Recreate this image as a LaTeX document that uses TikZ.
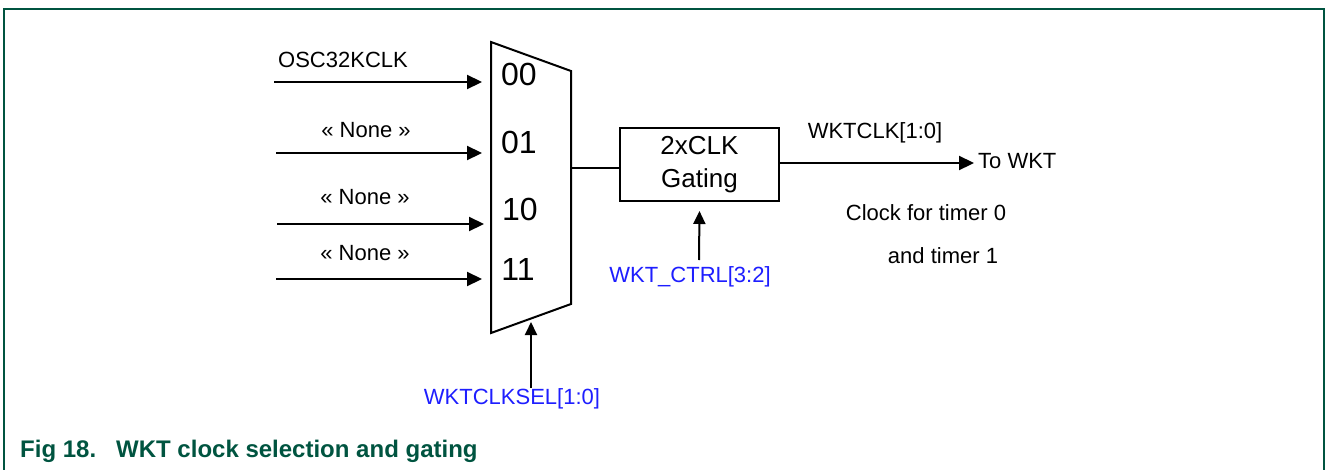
\documentclass[tikz,border=0pt]{standalone}
\usepackage{fontspec}
\setmainfont{Liberation Sans}
\usetikzlibrary{arrows.meta}
\definecolor{nxpgreen}{RGB}{0,84,64}
\definecolor{sigblue}{RGB}{30,30,255}
\begin{document}
\begin{tikzpicture}[x=1pt,y=-1pt,
  lbl/.style={anchor=base,inner sep=0pt,font=\fontsize{22}{26}\selectfont},
  sel/.style={lbl,text=sigblue},
  port/.style={anchor=base,inner sep=0pt,font=\fontsize{32}{36}\selectfont},
  wire/.style={line width=2pt},
  sig/.style={line width=2.2pt,-{Triangle[length=15pt,width=14pt]}},
  ctl/.style={line width=2pt,-{Triangle[length=13pt,width=12pt]}},
  gatebox/.style={draw,line width=2pt,minimum width=159pt,minimum height=73pt,inner sep=0pt,align=center,font=\fontsize{26}{33}\selectfont}]
\useasboundingbox (0,0) rectangle (1326,469);
% frame
\draw[nxpgreen,line width=1.5pt] (4,472) -- (4,9) -- (1324,9) -- (1324,472);
% multiplexer
\coordinate (mTL) at (491,42);
\coordinate (mTR) at (571,71);
\coordinate (mBR) at (571,304);
\coordinate (mBL) at (491,333);
\draw[wire,line join=miter] (mTL) -- (mTR) -- (mBR) -- (mBL) -- cycle;
\node[port] (p00) at (519,85) {00};
\node[port] (p01) at (519,153) {01};
\node[port] (p10) at (520,220) {10};
\node[port] (p11) at (518,280) {11};
% inputs
\coordinate (s0) at (274,82);  \coordinate (e0) at (482,82);
\coordinate (s1) at (276,153); \coordinate (e1) at (482,153);
\coordinate (s2) at (277,224); \coordinate (e2) at (484,224);
\coordinate (s3) at (276,279); \coordinate (e3) at (482,279);
\draw[sig] (s0) -- (e0);
\draw[sig] (s1) -- (e1);
\draw[sig] (s2) -- (e2);
\draw[sig] (s3) -- (e3);
\node[lbl] (lo) at (343,67) {OSC32KCLK};
\node[lbl] (ln1) at (366,137) {« None »};
\node[lbl] (ln2) at (365,204) {« None »};
\node[lbl] (ln3) at (365,260) {« None »};
% select
\node[sel] (wsel) at (512,404) {WKTCLKSEL[1:0]};
\coordinate (selS) at (531,388);
\coordinate (selE) at (531,322);
\draw[ctl] (selS) -- (selE);
% gating box
\node[gatebox] (gate) at (699.5,164.5) {2xCLK\\Gating};
\coordinate (mout) at (571,168);
\draw[wire] (mout) -- (mout -| gate.west);
% output
\coordinate (toE) at (974,163);
\draw[sig] (gate.east |- toE) -- (toE);
\node[lbl,anchor=base west] (towkt) at (978,168) {To WKT};
\node[lbl] (wclk) at (875,138) {WKTCLK[1:0]};
\node[lbl] (c0) at (926,220) {Clock for timer 0};
\node[lbl] (c1) at (943,263) {and timer 1};
% gating control
\node[sel] (wctrl) at (690,282) {WKT\_CTRL[3:2]};
\coordinate (ctlS) at (699,260);
\draw[ctl] (ctlS) -- (gate.south |- 0,211);
% caption
\node[anchor=base west,inner sep=0pt,text=nxpgreen,font=\fontsize{24}{28}\selectfont\bfseries] (capA) at (20,457) {Fig 18.};
\node[anchor=base west,inner sep=0pt,text=nxpgreen,font=\fontsize{24}{28}\selectfont\bfseries] (capB) at (116,457) {WKT clock selection and gating};
\end{tikzpicture}
\end{document}
